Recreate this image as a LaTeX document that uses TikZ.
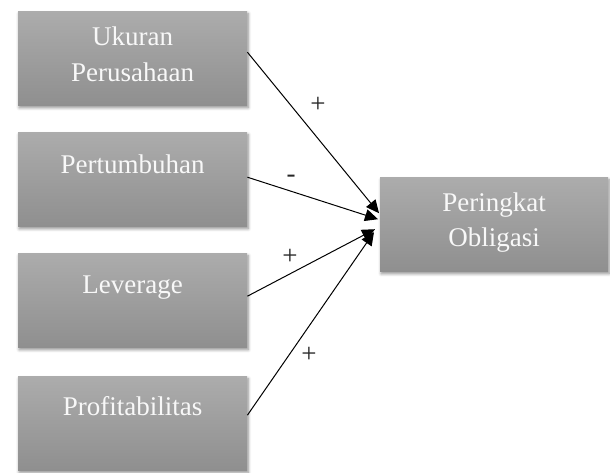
\documentclass[tikz,border=0pt]{standalone}
\usepackage{fontspec}
\setmainfont{Liberation Serif}
\usetikzlibrary{calc,arrows.meta,shadows.blur}
\definecolor{boxtop}{RGB}{172,172,172}
\definecolor{boxbot}{RGB}{143,143,143}
\definecolor{boxtext}{RGB}{248,248,248}
\tikzset{
  gbox/.style={rectangle, minimum width=229pt, minimum height=94pt, inner sep=0pt,
    top color=boxtop, bottom color=boxbot, draw=none,
    blur shadow={shadow xshift=1pt, shadow yshift=-2.5pt, shadow blur radius=3pt, shadow blur steps=6, shadow opacity=45}},
  btext/.style={anchor=base, text=boxtext, inner sep=0pt, font=\fontsize{27pt}{30pt}\selectfont},
  sign/.style={inner sep=0pt, text=black!85, font=\fontsize{27pt}{30pt}\selectfont},
  conn/.style={line width=1pt, -{Triangle[length=13pt,width=12pt]}}
}
\begin{document}
\begin{tikzpicture}[x=1pt,y=-1pt]
\useasboundingbox (0,0) rectangle (610,472);
% boxes
\node[gbox, anchor=north west] (b1) at (18,11) {};
\node[gbox, anchor=north west] (b2) at (18,132) {};
\node[gbox, anchor=north west] (b3) at (18,253) {};
\node[gbox, anchor=north west] (b4) at (18,376) {};
\node[gbox, anchor=north west, minimum width=228pt] (po) at (380,177) {};
% texts
\node[btext] (t1a) at ($(b1.north)+(0,34)$) {Ukuran};
\node[btext] (t1b) at ($(b1.north)+(0,70)$) {Perusahaan};
\node[btext] (t2) at ($(b2.north)+(0,41)$) {Pertumbuhan};
\node[btext] (t3) at ($(b3.north)+(0,40)$) {Leverage};
\node[btext] (t4) at ($(b4.north)+(0,39)$) {Profitabilitas};
\node[btext] (t5a) at ($(po.north)+(0,34)$) {Peringkat};
\node[btext] (t5b) at ($(po.north)+(0,69)$) {Obligasi};
% arrow targets
\coordinate (e1) at ($(po.west)+(-1,-11)$);
\coordinate (e2) at ($(po.west)+(-2,-5)$);
\coordinate (e3) at ($(po.west)+(-5,5)$);
\coordinate (e4) at ($(po.west)+(-6,8)$);
% connectors
\draw[conn] ($(b1.east)+(0,-6)$) -- (e1);
\draw[conn] ($(b2.east)+(0,-2)$) -- (e2);
\draw[conn] ($(b3.east)+(0,-4)$) -- (e3);
\draw[conn] ($(b4.east)+(0,-8)$) -- (e4);
% signs
\node[sign] (s1) at (318,105) {+};
\node[sign] (s2) at (291,179) {-};
\node[sign] (s3) at (290,257) {+};
\node[sign] (s4) at (309,355) {+};
\end{tikzpicture}
\end{document}
